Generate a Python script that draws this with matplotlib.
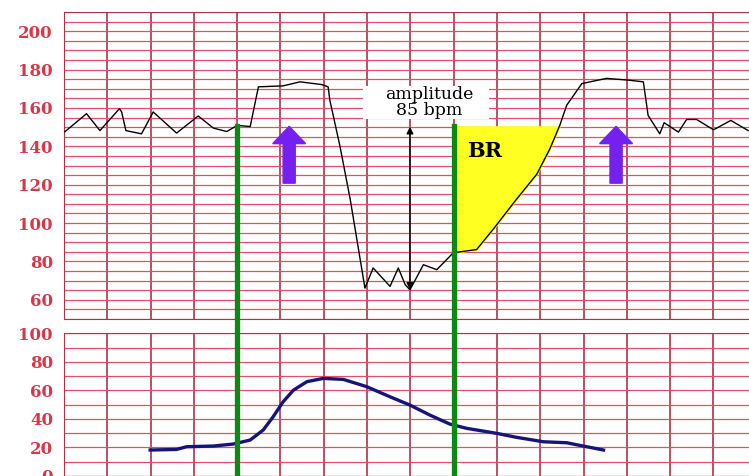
import matplotlib.pyplot as plt
import numpy as np
from matplotlib.patches import FancyArrow, Rectangle

# fetal heart rate trace (time in grid units, bpm)
fhr_t = [0.02, 0.52, 0.83, 1.28, 1.33, 1.43, 1.79, 2.06, 2.60, 3.10, 3.45, 3.76, 4.00,
         4.30, 4.49, 5.06, 5.45, 5.95, 6.10, 6.14, 6.37, 6.61, 6.95, 7.14, 7.53, 7.72,
         7.88, 7.99, 8.30, 8.61, 8.99, 9.53, 9.91, 10.45, 10.92, 11.22, 11.45, 11.61,
         11.96, 12.53, 13.03, 13.38, 13.49, 13.76, 13.86, 14.19, 14.38, 14.61, 15.00,
         15.40, 15.80]
fhr_v = [147.6, 157.0, 148.2, 159.6, 158.0, 148.2, 146.5, 157.9, 146.9, 155.8, 149.5,
         147.7, 150.9, 150.3, 171.0, 171.5, 173.6, 172.2, 171.0, 164.0, 140.4, 112.4,
         66.1, 76.6, 67.0, 76.6, 67.9, 65.2, 78.3, 75.7, 84.5, 86.2, 96.7, 112.4, 125.5,
         138.6, 150.9, 161.4, 172.7, 175.4, 174.5, 173.6, 156.1, 146.5, 152.3, 147.4,
         154.0, 154.0, 148.6, 153.5, 148.2]

# uterine contraction trace
uc_t = [1.99, 2.60, 2.83, 3.45, 3.91, 4.30, 4.60, 4.83, 5.06, 5.30, 5.61, 5.99, 6.45,
        6.99, 7.53, 7.99, 8.45, 8.91, 9.30, 9.99, 10.45, 11.07, 11.61, 11.99, 12.46]
uc_v = [18.2, 18.6, 20.5, 21.0, 22.4, 25.2, 32.2, 41.5, 52.0, 60.2, 66.1, 68.4, 67.7,
        62.6, 55.5, 49.7, 42.7, 36.4, 33.4, 29.9, 27.1, 24.0, 23.3, 21.0, 18.2]

fhr_ticks = [60, 80, 100, 120, 140, 160, 180, 200]
uc_ticks = [0, 20, 40, 60, 80, 100]
green_x = [4.0, 9.0]
arrow_x = [5.2, 12.75]

vcol = '#a8344e'
hcol = '#e25068'
lblcol = '#d6384a'
xmax = 15.82

fig = plt.figure(figsize=(7.49, 4.76), dpi=100)
ax1 = fig.add_axes([0.08545, 0.32983, 0.91455, 0.64496])
ax2 = fig.add_axes([0.08545, 0.0, 0.91455, 0.29979])


def style(ax, ticks, minor):
    ax.set_xlim(0, xmax)
    ax.set_xticks(np.arange(0, 16))
    ax.set_xticklabels([])
    ax.set_yticks(ticks)
    ax.set_yticks(minor, minor=True)
    ax.grid(axis='x', color=vcol, lw=1.2)
    ax.grid(axis='y', which='both', color=hcol, lw=0.9)
    ax.tick_params(which='both', length=0, pad=8)
    for lab in ax.get_yticklabels():
        lab.set_fontfamily('DejaVu Serif')
        lab.set_fontweight('bold')
        lab.set_fontsize(12)
        lab.set_color(lblcol)
    ax.spines['right'].set_visible(False)
    for s in ['left', 'top', 'bottom']:
        ax.spines[s].set_color(vcol)
    ax.set_axisbelow(True)


ax1.set_ylim(50, 210)
style(ax1, fhr_ticks, np.arange(50, 211, 5))
ax2.set_ylim(0, 100)
style(ax2, uc_ticks, np.arange(0, 101, 10))

t = np.array(fhr_t)
v = np.array(fhr_v)

# BR shaded area
m = (t >= 8.99) & (t <= 11.45)
ax1.fill_between(t[m], v[m], 150.4, where=v[m] <= 150.4, interpolate=True,
                 color='#ffff22', zorder=2)
ax1.text(9.3, 137.5, 'BR', fontfamily='DejaVu Serif', fontweight='bold',
         fontsize=15, va='center', ha='left', zorder=5)

ax1.plot(t, v, color='black', lw=1.0, zorder=4)

# green markers through both panels
for gx in green_x:
    ax1.plot([gx, gx], [150.4, 40], color='#0a8a12', lw=3.8, clip_on=False, zorder=6)
    ax2.axvline(gx, color='#0a8a12', lw=3.8, zorder=6)

# purple arrows
for ax_ in arrow_x:
    ax1.add_patch(FancyArrow(ax_, 120.8, 0, 29.6, width=0.28, head_width=0.76,
                             head_length=9.0, length_includes_head=True,
                             color='#7420ee', zorder=5))

# amplitude arrow
ax1.annotate('', xy=(7.99, 65.2), xytext=(7.99, 150.2),
             arrowprops=dict(arrowstyle='<|-|>', color='black', lw=1.0,
                             mutation_scale=10, shrinkA=0, shrinkB=0), zorder=5)
ax1.add_patch(Rectangle((6.9, 154.4), 2.92, 16.8, facecolor='white',
                        edgecolor='none', zorder=3))
ax1.text(8.44, 162.8, 'amplitude\n85 bpm', fontfamily='DejaVu Serif', fontsize=12.5,
         ha='center', va='center', linespacing=0.95, zorder=5)

ax2.plot(uc_t, uc_v, color='#14147a', lw=2.4, zorder=4)

fig.savefig('out.png', dpi=100)
